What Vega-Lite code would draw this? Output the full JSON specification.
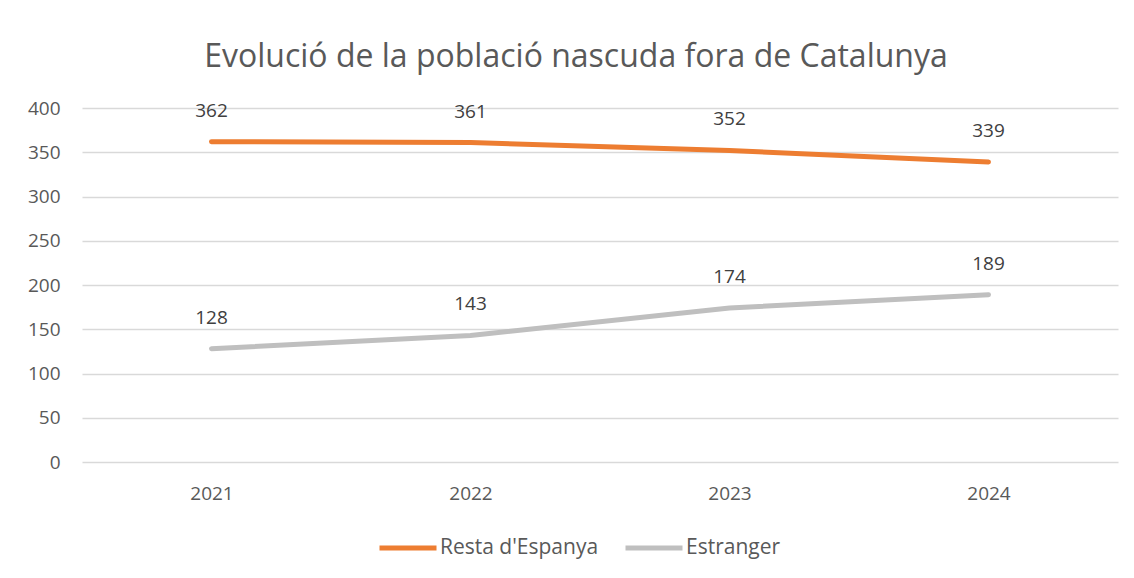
{
  "$schema": "https://vega.github.io/schema/vega-lite/v6.json",
  "autosize": "none",
  "width": 1036,
  "height": 354,
  "padding": {"left": 82, "top": 108, "right": 16, "bottom": 116},
  "background": "white",
  "config": {
    "font": "Open Sans",
    "view": {"stroke": null}
  },
  "title": {
    "text": "Evolució de la població nascuda fora de Catalunya",
    "fontSize": 32,
    "font": "Open Sans",
    "fontWeight": "normal",
    "color": "#595959",
    "anchor": "middle",
    "dx": -24,
    "offset": 25
  },
  "data": {
    "values": [
      {"any": "2021", "serie": "Resta d'Espanya", "valor": 362},
      {"any": "2022", "serie": "Resta d'Espanya", "valor": 361},
      {"any": "2023", "serie": "Resta d'Espanya", "valor": 352},
      {"any": "2024", "serie": "Resta d'Espanya", "valor": 339},
      {"any": "2021", "serie": "Estranger", "valor": 128},
      {"any": "2022", "serie": "Estranger", "valor": 143},
      {"any": "2023", "serie": "Estranger", "valor": 174},
      {"any": "2024", "serie": "Estranger", "valor": 189}
    ]
  },
  "encoding": {
    "x": {
      "field": "any",
      "type": "ordinal",
      "scale": {"type": "point", "padding": 0.5},
      "axis": {
        "title": null,
        "labelAngle": 0,
        "labelFontSize": 19,
        "labelColor": "#595959",
        "labelPadding": 22,
        "domain": false,
        "ticks": false,
        "grid": false
      }
    },
    "y": {
      "field": "valor",
      "type": "quantitative",
      "scale": {"domain": [0, 400]},
      "axis": {
        "title": null,
        "values": [0, 50, 100, 150, 200, 250, 300, 350, 400],
        "labelFontSize": 19,
        "labelColor": "#595959",
        "labelPadding": 22,
        "domain": false,
        "ticks": false,
        "gridColor": "#D9D9D9",
        "gridWidth": 1.3
      }
    },
    "color": {
      "field": "serie",
      "type": "nominal",
      "scale": {"domain": ["Resta d'Espanya", "Estranger"], "range": ["#ED7D31", "#BFBFBF"]},
      "legend": {
        "title": null,
        "orient": "none",
        "legendX": 295,
        "legendY": 409,
        "direction": "horizontal",
        "symbolType": "stroke",
        "symbolSize": 3249,
        "symbolStrokeWidth": 5,
        "labelFontSize": 21,
        "labelColor": "#595959",
        "labelOffset": 1,
        "columnPadding": 16
      }
    }
  },
  "layer": [
    {
      "mark": {"type": "line", "strokeWidth": 5, "strokeCap": "round"}
    },
    {
      "mark": {"type": "text", "dy": -31, "fontSize": 19, "color": "#404040", "baseline": "middle"},
      "encoding": {
        "text": {"field": "valor", "type": "quantitative"},
        "color": {"value": "#404040"}
      }
    }
  ]
}
